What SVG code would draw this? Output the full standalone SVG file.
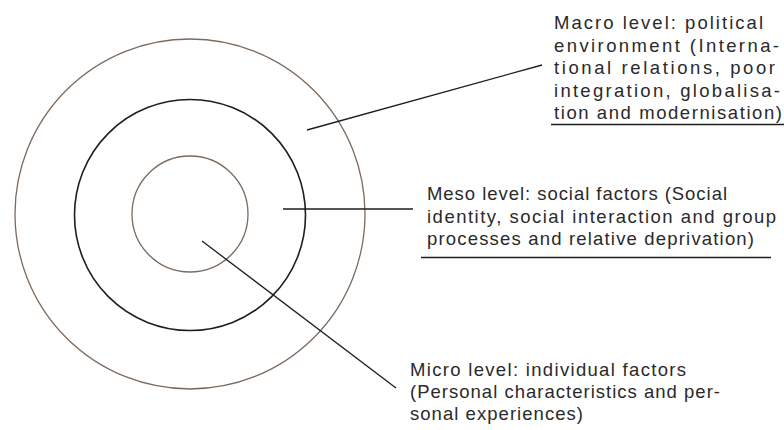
<svg xmlns="http://www.w3.org/2000/svg" width="784" height="430" viewBox="0 0 784 430">
  <style>
    .ring-brown { fill: none; stroke: #7d6a5c; stroke-width: 1.3; }
    .ring-dark { fill: none; stroke: #1e1e1e; stroke-width: 1.6; }
    .leader { stroke: #1e1e1e; stroke-width: 1.3; fill: none; }
    .rule { stroke: #1e1e1e; stroke-width: 1.5; }
    .label { font-family: "Liberation Sans", Arial, sans-serif; font-size: 18.5px; fill: #2a2a2a; }
  </style>
  <rect width="784" height="430" fill="#ffffff"/>

  <!-- concentric levels -->
  <g id="macro-ring">
    <circle class="ring-brown" cx="190" cy="214" r="175"/>
  </g>
  <g id="meso-ring">
    <circle class="ring-dark" cx="190" cy="215" r="115.5"/>
  </g>
  <g id="micro-ring">
    <circle class="ring-brown" cx="190" cy="214" r="58"/>
  </g>

  <!-- leader lines -->
  <g id="connectors">
    <line class="leader" x1="307" y1="130" x2="542" y2="65"/>
    <line class="leader" x1="283" y1="209" x2="413" y2="209"/>
    <line class="leader" x1="202" y1="241" x2="396" y2="388"/>
  </g>

  <!-- labels -->
  <g id="macro-label">
    <text class="label" lengthAdjust="spacingAndGlyphs">
      <tspan x="554" y="29" textLength="209">Macro level: political</tspan>
      <tspan x="554" y="51.5" textLength="225">environment (Interna-</tspan>
      <tspan x="554" y="74" textLength="221">tional relations, poor</tspan>
      <tspan x="554" y="96.5" textLength="226">integration, globalisa-</tspan>
      <tspan x="554" y="119" textLength="228">tion and modernisation)</tspan>
    </text>
    <line class="rule" x1="551" y1="124.5" x2="784" y2="124.5"/>
  </g>

  <g id="meso-label">
    <text class="label" lengthAdjust="spacingAndGlyphs">
      <tspan x="427" y="200" textLength="300">Meso level: social factors (Social</tspan>
      <tspan x="427" y="222.5" textLength="349">identity, social interaction and group</tspan>
      <tspan x="427" y="245" textLength="327">processes and relative deprivation)</tspan>
    </text>
    <line class="rule" x1="421" y1="257.5" x2="771" y2="257.5"/>
  </g>

  <g id="micro-label">
    <text class="label" lengthAdjust="spacingAndGlyphs">
      <tspan x="410" y="376" textLength="276">Micro level: individual factors</tspan>
      <tspan x="410" y="398" textLength="310">(Personal characteristics and per-</tspan>
      <tspan x="410" y="420" textLength="173">sonal experiences)</tspan>
    </text>
  </g>
</svg>
